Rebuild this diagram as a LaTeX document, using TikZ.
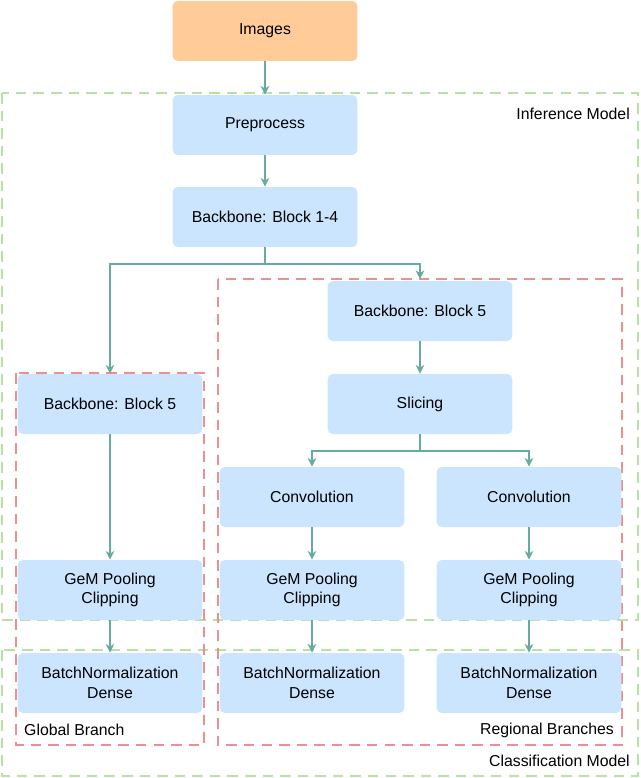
\documentclass[tikz,border=0pt]{standalone}
\usepackage{fontspec}
\setmainfont{Liberation Sans}
\usetikzlibrary{positioning, calc, arrows.meta}
\definecolor{boxblue}{HTML}{CCE5FF}
\definecolor{boxorange}{HTML}{FFCC99}
\definecolor{arrowteal}{HTML}{67AB9F}
\definecolor{dashgreen}{HTML}{B9E0A5}
\definecolor{dashred}{HTML}{EA9090}
\begin{document}
\begin{tikzpicture}[x=0.02cm, y=-0.02cm, font=\fontsize{9}{11}\selectfont]
    \tikzstyle{block} = [fill=boxblue, rounded corners=3pt, minimum width=3.7cm, minimum height=1.2cm, align=center, inner sep=0pt];
    \tikzstyle{flow} = [draw=arrowteal, thick, -{Stealth[length=5pt, width=5pt]}];
    \tikzstyle{green frame} = [draw=dashgreen, line width=1.5pt, dash pattern=on 6pt off 4pt];
    \tikzstyle{red frame} = [draw=dashred, line width=1.5pt, dash pattern=on 6pt off 4pt];

    \useasboundingbox (0, 0) rectangle (640, 778);

    % frames
    \draw[green frame] (2, 93) rectangle (638, 620);
    \draw[green frame] (2, 650) rectangle (638, 776);
    \draw[red frame] (16, 373) rectangle (204, 745);
    \draw[red frame] (218, 279) rectangle (622, 745);

    \node[anchor=east] (inflabel) at (636, 114) {Inference Model};
    \node[anchor=east] (clslabel) at (636, 761) {Classification Model};
    \node[anchor=west] (globlabel) at (18, 730) {Global Branch};
    \node[anchor=east] (reglabel) at (620, 730) {Regional Branches};

    % main column
    \node[block, fill=boxorange] (images) at (265, 31) {Images};
    \node[block] (prep) at (265, 125) {Preprocess};
    \node[block] (bb14) at (265, 217) {Backbone: Block 1-4};

    % global branch
    \node[block] (gblock5) at (110, 404) {Backbone: Block 5};
    \node[block] (ggem) at (110, 590) {GeM Pooling\\Clipping};
    \node[block] (gbn) at (110, 683) {BatchNormalization\\Dense};

    % regional branches
    \node[block] (rblock5) at (420, 311) {Backbone: Block 5};
    \node[block] (slice) at (420, 404) {Slicing};
    \node[block] (conva) at (312, 497) {Convolution};
    \node[block] (convb) at (529, 497) {Convolution};
    \node[block] (gema) at (312, 590) {GeM Pooling\\Clipping};
    \node[block] (gemb) at (529, 590) {GeM Pooling\\Clipping};
    \node[block] (bna) at (312, 683) {BatchNormalization\\Dense};
    \node[block] (bnb) at (529, 683) {BatchNormalization\\Dense};

    \coordinate (split) at (265, 264);
    \coordinate (rtop) at (420, 279);
    \coordinate (fork) at (420, 451);

    \draw[flow] (images) -- (prep);
    \draw[flow] (prep) -- (bb14);
    \draw[flow] (bb14.south) -- (split) -| (gblock5.north);
    \draw[flow] (split) -| (rtop);
    \draw[flow] (gblock5) -- (ggem);
    \draw[flow] (ggem) -- (gbn);
    \draw[flow] (rblock5) -- (slice);
    \draw[flow] (slice.south) -- (fork) -| (conva.north);
    \draw[flow] (fork) -| (convb.north);
    \draw[flow] (conva) -- (gema);
    \draw[flow] (convb) -- (gemb);
    \draw[flow] (gema) -- (bna);
    \draw[flow] (gemb) -- (bnb);
\end{tikzpicture}
\end{document}
